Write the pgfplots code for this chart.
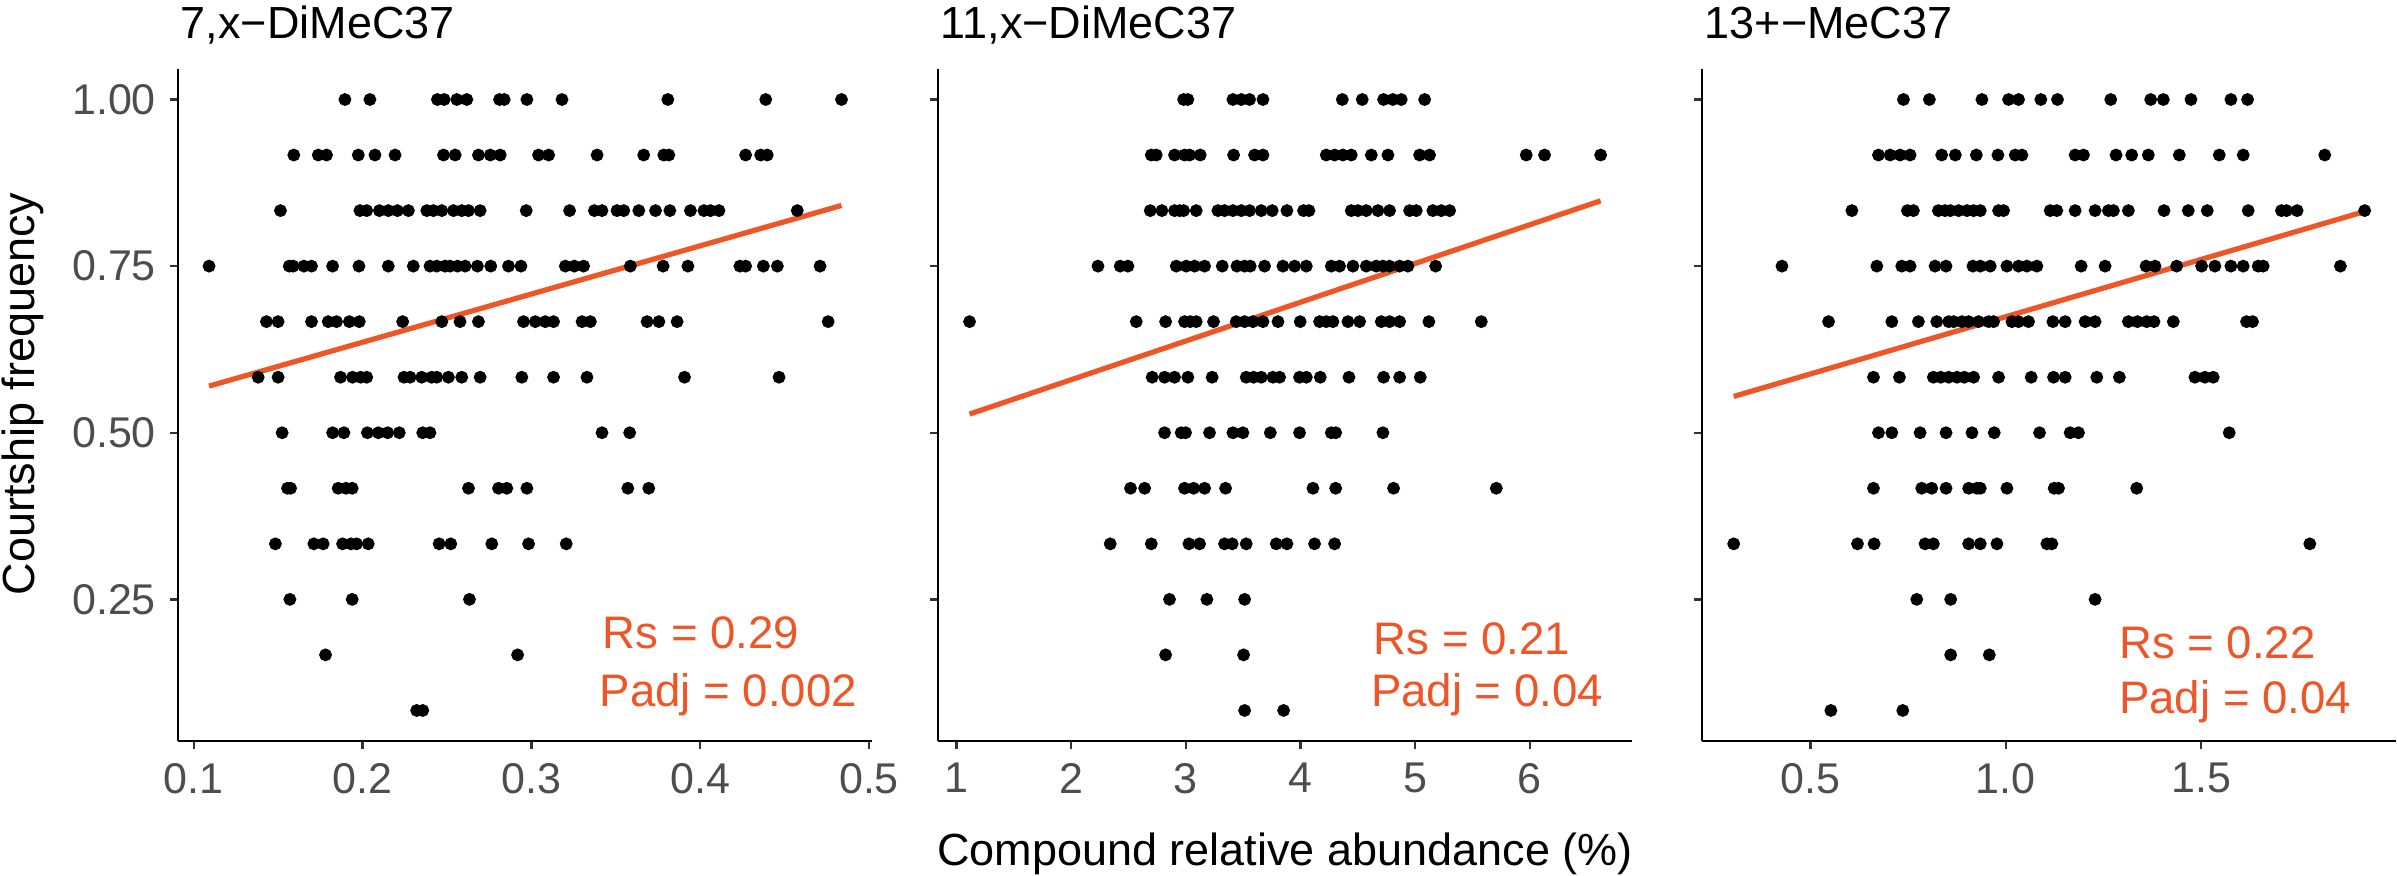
\documentclass[border=0pt]{standalone}
\usepackage{pgfplots}
\pgfplotsset{compat=1.18}
\usepackage{fontspec}
\setmainfont{Liberation Sans}

\definecolor{fitred}{HTML}{EE5527}
\definecolor{ticktext}{HTML}{4D4D4D}

\pgfplotsset{
  panel/.style={
    scale only axis, width=173.6pt, height=168pt,
    anchor=south west,
    axis lines=left, axis line style={-, line width=0.65pt, black},
    ymin=0.0375, ymax=1.0458,
    ytick={0.25,0.5,0.75,1},
    tick align=outside, major tick length=2pt,
    tick style={line width=0.6pt, color=black!80},
    tick label style={font=\fontsize{10.75}{12}\selectfont, color=ticktext},
    /pgf/number format/assume math mode=true,
    clip=false,
  },
  dots/.style={only marks, mark=*, mark size=1.4pt, black},
  fitline/.style={fitred, line width=1.3pt, no marks},
}
\tikzset{
  stat/.style={anchor=base west, inner sep=0pt, text=fitred,
    font=\fontsize{11.4}{13}\selectfont},
  paneltitle/.style={anchor=base west, inner sep=0pt, xshift=0.5pt, yshift=7.5pt,
    font=\fontsize{11.25}{13}\selectfont},
}

\begin{document}
\begin{tikzpicture}
\path[use as bounding box] (0,0) rectangle (599.25pt,219pt);

% panel 1
\begin{axis}[panel, at={(44.5pt,33.75pt)},
  xmin=0.0906, xmax=0.502,
  xtick={0.1,0.2,0.3,0.4,0.5},
  xticklabel style={/pgf/number format/.cd, fixed, fixed zerofill, precision=1},
  yticklabel style={/pgf/number format/.cd, fixed, fixed zerofill, precision=2},
]
\addplot[dots] coordinates {
(0.1895,1)(0.2043,1)(0.2443,1)(0.2483,1)(0.2558,1)(0.2617,1)(0.2811,1)(0.2839,1)(0.2973,1)(0.3181,1)(0.3808,1)(0.4388,1)(0.4837,1)
(0.1592,0.9167)(0.1737,0.9167)(0.1786,0.9167)(0.1974,0.9167)(0.2073,0.9167)(0.2192,0.9167)(0.2479,0.9167)(0.2548,0.9167)(0.2686,0.9167)(0.2756,0.9167)(0.2815,0.9167)(0.3042,0.9167)(0.3102,0.9167)(0.3389,0.9167)(0.3665,0.9167)(0.3784,0.9167)(0.3814,0.9167)(0.4269,0.9167)(0.4358,0.9167)(0.4397,0.9167)
(0.1513,0.8333)(0.1984,0.8333)(0.2024,0.8333)(0.2099,0.8333)(0.2152,0.8333)(0.2206,0.8333)(0.2271,0.8333)(0.2380,0.8333)(0.2419,0.8333)(0.2469,0.8333)(0.2538,0.8333)(0.2587,0.8333)(0.2627,0.8333)(0.2696,0.8333)(0.2969,0.8333)(0.3226,0.8333)(0.3373,0.8333)(0.3418,0.8333)(0.3507,0.8333)(0.3547,0.8333)(0.3636,0.8333)(0.3735,0.8333)(0.3820,0.8333)(0.3942,0.8333)(0.4022,0.8333)(0.4061,0.8333)(0.4111,0.8333)(0.4575,0.8333)
(0.1090,0.75)(0.1565,0.75)(0.1588,0.75)(0.1652,0.75)(0.1697,0.75)(0.1822,0.75)(0.1978,0.75)(0.2152,0.75)(0.2300,0.75)(0.2399,0.75)(0.2439,0.75)(0.2488,0.75)(0.2518,0.75)(0.2562,0.75)(0.2607,0.75)(0.2680,0.75)(0.2759,0.75)(0.2864,0.75)(0.2938,0.75)(0.3201,0.75)(0.3254,0.75)(0.3309,0.75)(0.3586,0.75)(0.3780,0.75)(0.3927,0.75)(0.4235,0.75)(0.4269,0.75)(0.4374,0.75)(0.4457,0.75)(0.4710,0.75)
(0.1430,0.6667)(0.1499,0.6667)(0.1697,0.6667)(0.1796,0.6667)(0.1845,0.6667)(0.1921,0.6667)(0.1980,0.6667)(0.2237,0.6667)(0.2469,0.6667)(0.2577,0.6667)(0.2686,0.6667)(0.2953,0.6667)(0.3023,0.6667)(0.3082,0.6667)(0.3131,0.6667)(0.3300,0.6667)(0.3349,0.6667)(0.3685,0.6667)(0.3755,0.6667)(0.3863,0.6667)(0.4758,0.6667)
(0.1381,0.5833)(0.1499,0.5833)(0.1869,0.5833)(0.1940,0.5833)(0.1988,0.5833)(0.2024,0.5833)(0.2245,0.5833)(0.2281,0.5833)(0.2350,0.5833)(0.2409,0.5833)(0.2439,0.5833)(0.2508,0.5833)(0.2587,0.5833)(0.2696,0.5833)(0.2943,0.5833)(0.3131,0.5833)(0.3329,0.5833)(0.3907,0.5833)(0.4467,0.5833)
(0.1523,0.5)(0.1822,0.5)(0.1889,0.5)(0.2028,0.5)(0.2093,0.5)(0.2148,0.5)(0.2217,0.5)(0.2356,0.5)(0.2399,0.5)(0.3418,0.5)(0.3582,0.5)
(0.1555,0.4167)(0.1573,0.4167)(0.1855,0.4167)(0.1901,0.4167)(0.1938,0.4167)(0.2627,0.4167)(0.2805,0.4167)(0.2854,0.4167)(0.2973,0.4167)(0.3571,0.4167)(0.3695,0.4167)
(0.1483,0.3333)(0.1711,0.3333)(0.1766,0.3333)(0.1881,0.3333)(0.1931,0.3333)(0.1964,0.3333)(0.2033,0.3333)(0.2453,0.3333)(0.2522,0.3333)(0.2765,0.3333)(0.2983,0.3333)(0.3206,0.3333)
(0.1569,0.25)(0.1938,0.25)(0.2633,0.25)
(0.1780,0.1667)(0.2918,0.1667)
(0.2320,0.0833)(0.2356,0.0833)
};
\addplot[fitline] coordinates {(0.1090,0.570)(0.4837,0.841)};
\node[stat] at (axis cs:0.3418,0.176) {Rs = 0.29};
\node[stat] at (axis cs:0.3400,0.089) {Padj = 0.002};
\node[paneltitle] at (rel axis cs:0,1) {7,x−DiMeC37};
\end{axis}

% panel 2
\begin{axis}[panel, at={(234.5pt,33.75pt)},
  xmin=0.838, xmax=6.894,
  xtick={1,2,3,4,5,6},
  yticklabels={},
]
\addplot[dots] coordinates {
(2.980,1)(3.017,1)(3.410,1)(3.483,1)(3.555,1)(3.672,1)(4.364,1)(4.538,1)(4.724,1)(4.805,1)(4.878,1)(5.082,1)
(2.698,0.9167)(2.741,0.9167)(2.901,0.9167)(2.988,0.9167)(3.032,0.9167)(3.125,0.9167)(3.416,0.9167)(3.599,0.9167)(3.672,0.9167)(4.224,0.9167)(4.297,0.9167)(4.369,0.9167)(4.442,0.9167)(4.617,0.9167)(4.762,0.9167)(5.038,0.9167)(5.125,0.9167)(5.968,0.9167)(6.128,0.9167)(6.617,0.9167)
(2.689,0.8333)(2.791,0.8333)(2.901,0.8333)(2.945,0.8333)(2.980,0.8333)(3.090,0.8333)(3.279,0.8333)(3.337,0.8333)(3.410,0.8333)(3.483,0.8333)(3.555,0.8333)(3.657,0.8333)(3.753,0.8333)(3.881,0.8333)(4.026,0.8333)(4.073,0.8333)(4.442,0.8333)(4.500,0.8333)(4.573,0.8333)(4.675,0.8333)(4.776,0.8333)(4.951,0.8333)(5.009,0.8333)(5.154,0.8333)(5.227,0.8333)(5.300,0.8333)
(2.233,0.75)(2.427,0.75)(2.494,0.75)(2.916,0.75)(3.003,0.75)(3.076,0.75)(3.163,0.75)(3.317,0.75)(3.445,0.75)(3.512,0.75)(3.561,0.75)(3.686,0.75)(3.846,0.75)(3.948,0.75)(4.050,0.75)(4.268,0.75)(4.340,0.75)(4.457,0.75)(4.573,0.75)(4.660,0.75)(4.718,0.75)(4.776,0.75)(4.864,0.75)(4.936,0.75)(5.178,0.75)
(1.113,0.6667)(2.567,0.6667)(2.823,0.6667)(2.988,0.6667)(3.038,0.6667)(3.090,0.6667)(3.241,0.6667)(3.439,0.6667)(3.512,0.6667)(3.584,0.6667)(3.672,0.6667)(3.803,0.6667)(3.997,0.6667)(4.166,0.6667)(4.224,0.6667)(4.282,0.6667)(4.413,0.6667)(4.515,0.6667)(4.704,0.6667)(4.776,0.6667)(4.864,0.6667)(5.119,0.6667)(5.576,0.6667)
(2.706,0.5833)(2.814,0.5833)(2.901,0.5833)(3.017,0.5833)(3.229,0.5833)(3.526,0.5833)(3.590,0.5833)(3.657,0.5833)(3.759,0.5833)(3.817,0.5833)(3.991,0.5833)(4.050,0.5833)(4.172,0.5833)(4.422,0.5833)(4.724,0.5833)(4.864,0.5833)(5.044,0.5833)
(2.814,0.5)(2.959,0.5)(2.997,0.5)(3.206,0.5)(3.410,0.5)(3.497,0.5)(3.736,0.5)(3.991,0.5)(4.268,0.5)(4.306,0.5)(4.718,0.5)
(2.517,0.4167)(2.640,0.4167)(2.988,0.4167)(3.067,0.4167)(3.163,0.4167)(3.346,0.4167)(4.108,0.4167)(4.306,0.4167)(4.811,0.4167)(5.707,0.4167)
(2.340,0.3333)(2.698,0.3333)(3.026,0.3333)(3.119,0.3333)(3.337,0.3333)(3.404,0.3333)(3.526,0.3333)(3.788,0.3333)(3.881,0.3333)(4.122,0.3333)(4.297,0.3333)
(2.857,0.25)(3.183,0.25)(3.512,0.25)
(2.823,0.1667)(3.503,0.1667)
(3.512,0.0833)(3.852,0.0833)
};
\addplot[fitline] coordinates {(1.113,0.528)(6.617,0.848)};
\node[stat] at (axis cs:4.631,0.167) {Rs = 0.21};
\node[stat] at (axis cs:4.608,0.089) {Padj = 0.04};
\node[paneltitle] at (rel axis cs:0,1) {11,x−DiMeC37};
\end{axis}

% panel 3
\begin{axis}[panel, at={(425.5pt,33.75pt)},
  xmin=0.2228, xmax=2.0,
  xtick={0.5,1,1.5},
  xticklabel style={/pgf/number format/.cd, fixed, fixed zerofill, precision=1},
  yticklabels={},
]
\addplot[dots] coordinates {
(0.7383,1)(0.8047,1)(0.9392,1)(1.0074,1)(1.0329,1)(1.0900,1)(1.1326,1)(1.2689,1)(1.3711,1)(1.4035,1)(1.4742,1)(1.5764,1)(1.6190,1)
(0.6744,0.9167)(0.7042,0.9167)(0.7298,0.9167)(0.7553,0.9167)(0.8362,0.9167)(0.8711,0.9167)(0.9248,0.9167)(0.9801,0.9167)(1.0244,0.9167)(1.0415,0.9167)(1.1777,0.9167)(1.1990,0.9167)(1.2825,0.9167)(1.3225,0.9167)(1.3651,0.9167)(1.4443,0.9167)(1.5466,0.9167)(1.6079,0.9167)(1.8166,0.9167)
(0.6063,0.8333)(0.7485,0.8333)(0.7638,0.8333)(0.8277,0.8333)(0.8447,0.8333)(0.8583,0.8333)(0.8796,0.8333)(0.9009,0.8333)(0.9179,0.8333)(0.9350,0.8333)(0.9818,0.8333)(0.9946,0.8333)(1.1139,0.8333)(1.1309,0.8333)(1.1777,0.8333)(1.2288,0.8333)(1.2629,0.8333)(1.2757,0.8333)(1.3140,0.8333)(1.4052,0.8333)(1.4673,0.8333)(1.5159,0.8333)(1.6207,0.8333)(1.7058,0.8333)(1.7186,0.8333)(1.7459,0.8333)(1.9188,0.8333)
(0.4274,0.75)(0.6702,0.75)(0.7340,0.75)(0.7553,0.75)(0.8192,0.75)(0.8473,0.75)(0.9162,0.75)(0.9350,0.75)(0.9605,0.75)(1.0031,0.75)(1.0329,0.75)(1.0542,0.75)(1.0798,0.75)(1.1931,0.75)(1.2544,0.75)(1.3592,0.75)(1.3822,0.75)(1.4375,0.75)(1.5014,0.75)(1.5355,0.75)(1.5764,0.75)(1.6079,0.75)(1.6462,0.75)(1.6590,0.75)(1.8566,0.75)
(0.5467,0.6667)(0.7085,0.6667)(0.7766,0.6667)(0.8235,0.6667)(0.8541,0.6667)(0.8668,0.6667)(0.8881,0.6667)(0.9052,0.6667)(0.9307,0.6667)(0.9563,0.6667)(0.9690,0.6667)(1.0159,0.6667)(1.0329,0.6667)(1.0585,0.6667)(1.1207,0.6667)(1.1522,0.6667)(1.2033,0.6667)(1.2288,0.6667)(1.3140,0.6667)(1.3370,0.6667)(1.3609,0.6667)(1.3796,0.6667)(1.4290,0.6667)(1.6164,0.6667)(1.6317,0.6667)
(0.6616,0.5833)(0.7281,0.5833)(0.8149,0.5833)(0.8337,0.5833)(0.8541,0.5833)(0.8754,0.5833)(0.8941,0.5833)(0.9179,0.5833)(0.9818,0.5833)(1.0653,0.5833)(1.1224,0.5833)(1.1522,0.5833)(1.2331,0.5833)(1.2910,0.5833)(1.4843,0.5833)(1.5099,0.5833)(1.5312,0.5833)
(0.6744,0.5)(0.7085,0.5)(0.7809,0.5)(0.8473,0.5)(0.9137,0.5)(0.9707,0.5)(1.0866,0.5)(1.1650,0.5)(1.1863,0.5)(1.5721,0.5)
(0.6616,0.4167)(0.7851,0.4167)(0.8107,0.4167)(0.8473,0.4167)(0.9052,0.4167)(0.9264,0.4167)(0.9350,0.4167)(1.0031,0.4167)(1.1241,0.4167)(1.1352,0.4167)(1.3353,0.4167)
(0.3039,0.3333)(0.6207,0.3333)(0.6633,0.3333)(0.7936,0.3333)(0.8149,0.3333)(0.9052,0.3333)(0.9350,0.3333)(0.9776,0.3333)(1.1054,0.3333)(1.1181,0.3333)(1.7783,0.3333)
(0.7724,0.25)(0.8592,0.25)(1.2288,0.25)
(0.8592,0.1667)(0.9581,0.1667)
(0.5526,0.0833)(0.7366,0.0833)
};
\addplot[fitline] coordinates {(0.304,0.5545)(1.919,0.832)};
\node[stat] at (axis cs:1.2885,0.161) {Rs = 0.22};
\node[stat] at (axis cs:1.2885,0.079) {Padj = 0.04};
\node[paneltitle] at (rel axis cs:0,1) {13+−MeC37};
\end{axis}

% shared axis titles
\node[anchor=base, inner sep=0pt, font=\fontsize{11.25}{13}\selectfont]
  at (321.25pt,2.5pt) {Compound relative abundance (\%)};
\node[rotate=90, inner sep=0pt, font=\fontsize{11.25}{13}\selectfont]
  at (5.75pt,120.5pt) {Courtship frequency};
\end{tikzpicture}
\end{document}
